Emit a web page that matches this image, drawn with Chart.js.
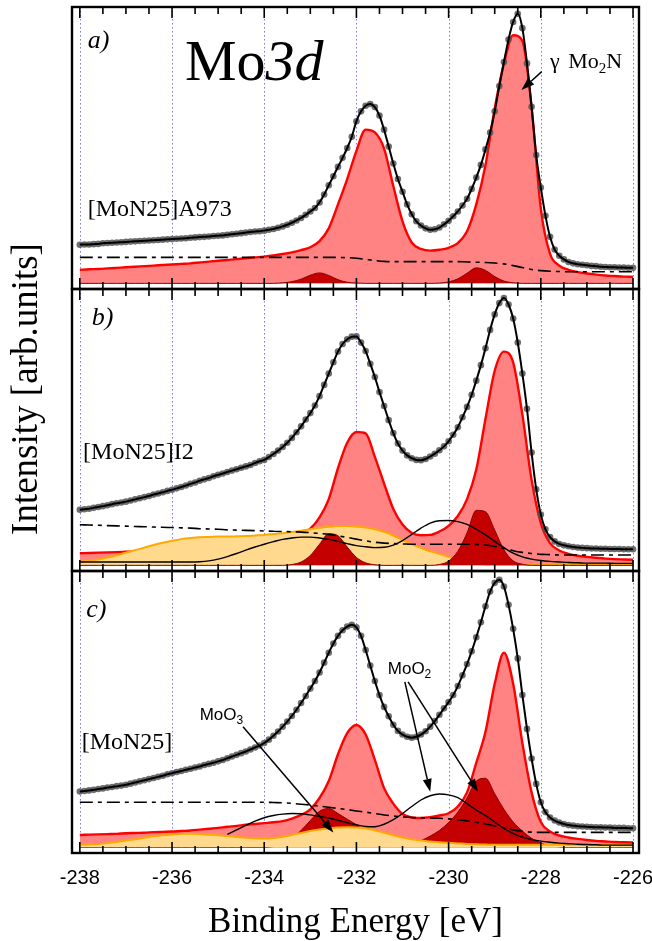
<!DOCTYPE html>
<html>
<head>
<meta charset="utf-8">
<script src="https://cdn.jsdelivr.net/npm/chart.js@4.4.0/dist/chart.umd.min.js"></script>
<style>
html,body{margin:0;padding:0;background:#fff;}
#wrap{position:relative;width:652px;height:941px;overflow:hidden;background:#fff;}
#wrap canvas{position:absolute;left:0;top:0;}
</style>
</head>
<body>
<div id="wrap">
<canvas id="cA" width="652" height="941"></canvas>
<canvas id="cB" width="652" height="941"></canvas>
<canvas id="cC" width="652" height="941"></canvas>
</div>
<script>
// ---------- x grids (binding energy, eV) ----------
const energyFine = [
-238,-237.9,-237.8,-237.7,-237.6,-237.5,-237.4,-237.3,-237.2,-237.1,
-237,-236.9,-236.8,-236.7,-236.6,-236.5,-236.4,-236.3,-236.2,-236.1,
-236,-235.9,-235.8,-235.7,-235.6,-235.5,-235.4,-235.3,-235.2,-235.1,
-235,-234.9,-234.8,-234.7,-234.6,-234.5,-234.4,-234.3,-234.2,-234.1,
-234,-233.9,-233.8,-233.7,-233.6,-233.5,-233.4,-233.3,-233.2,-233.1,
-233,-232.9,-232.8,-232.7,-232.6,-232.5,-232.4,-232.3,-232.2,-232.1,
-232,-231.9,-231.8,-231.7,-231.6,-231.5,-231.4,-231.3,-231.2,-231.1,
-231,-230.9,-230.8,-230.7,-230.6,-230.5,-230.4,-230.3,-230.2,-230.1,
-230,-229.9,-229.8,-229.7,-229.6,-229.5,-229.4,-229.3,-229.2,-229.1,
-229,-228.9,-228.8,-228.7,-228.6,-228.5,-228.4,-228.3,-228.2,-228.1,
-228,-227.9,-227.8,-227.7,-227.6,-227.5,-227.4,-227.3,-227.2,-227.1,
-227,-226.9,-226.8,-226.7,-226.6,-226.5,-226.4,-226.3,-226.2,-226.1,
-226];
const energy = [
-238,-237.8,-237.6,-237.4,-237.2,-237,-236.8,-236.6,-236.4,-236.2,
-236,-235.8,-235.6,-235.4,-235.2,-235,-234.8,-234.6,-234.4,-234.2,
-234,-233.8,-233.6,-233.4,-233.2,-233,-232.8,-232.6,-232.4,-232.2,
-232,-231.8,-231.6,-231.4,-231.2,-231,-230.8,-230.6,-230.4,-230.2,
-230,-229.8,-229.6,-229.4,-229.2,-229,-228.8,-228.6,-228.4,-228.2,
-228,-227.8,-227.6,-227.4,-227.2,-227,-226.8,-226.6,-226.4,-226.2,
-226];
const tickValues = [-238,-237.5,-237,-236.5,-236,-235.5,-235,-234.5,-234,-233.5,-233,-232.5,-232,
-231.5,-231,-230.5,-230,-229.5,-229,-228.5,-228,-227.5,-227,-226.5,-226];
const tickLabels = [-238,-236,-234,-232,-230,-228,-226];

// ---------- panel a) [MoN25]A973 ----------
const measuredA = [
13.7,13.8,13.8,13.9,14.0,14.2,14.3,14.4,14.5,14.6,
14.7,14.8,14.9,15.0,15.1,15.2,15.3,15.4,15.5,15.6,
15.7,15.8,15.9,16.0,16.2,16.3,16.4,16.5,16.6,16.8,
16.9,17.0,17.2,17.4,17.6,17.8,18.0,18.2,18.4,18.5,
18.7,19.0,19.3,19.7,20.2,20.8,21.5,22.3,23.2,24.3,
25.5,26.7,28.7,31.5,34.8,38.0,41.3,44.5,48.0,52.0,
57.5,61.0,63.0,63.6,62.5,59.5,54.5,48.5,42.5,37.0,
32.5,28.0,24.5,22.0,20.5,19.5,19.0,19.2,19.8,20.9,
22.2,23.8,25.5,27.6,30.0,33.5,37.5,42.0,47.5,53.5,
61.0,70.0,78.5,86.5,92.7,95.6,90.5,78.0,62.6,45.5,
34.0,24.0,16.5,12.0,9.8,8.5,7.6,7.1,6.8,6.6,
6.4,6.2,6.1,5.9,5.8,5.7,5.7,5.6,5.6,5.5,
5.5];
const mo2nA = [
4.8,5.0,5.1,5.3,5.5,5.7,5.9,6.1,6.3,6.5,
6.7,6.9,7.1,7.4,7.7,8.0,8.3,8.6,8.9,9.2,
9.5,9.9,10.4,11.0,11.8,12.8,15.0,19.5,28.0,37.0,
47.0,54.5,53.5,47.8,34.5,22.0,14.5,12.2,11.6,11.9,
12.6,14.3,18.5,28.0,42.0,62.0,78.0,88.0,86.0,62.6,
26.5,10.5,6.3,4.8,4.0,3.5,3.1,2.8,2.6,2.4,
2.3];
const darkA = [
0,0,0,0,0,0,0,0,0,0,
0,0,0,0,0,0,0,0,0,0,
0,0,0.2,0.6,1.5,2.9,3.7,2.8,1.3,0.4,
0.1,0,0,0,0,0,0,0,0,0.1,
0.5,1.6,3.6,5.5,4.6,2.4,0.8,0.2,0,0,
0,0,0,0,0,0,0,0,0,0,
0];
const backgroundA = [
9.2,9.2,9.2,9.2,9.2,9.2,9.2,9.2,9.2,9.2,
9.2,9.2,9.2,9.2,9.2,9.2,9.2,9.2,9.2,9.2,
9.2,9.2,9.2,9.2,9.2,9.2,9.2,9.2,9.2,9.1,
8.9,8.5,8.1,7.8,7.7,7.7,7.7,7.7,7.7,7.7,
7.7,7.7,7.6,7.5,7.4,7.2,6.9,6.3,5.6,4.9,
4.5,4.3,4.2,4.1,4.1,4.1,4.1,4.1,4.1,4.1,
4.1];

// ---------- panel b) [MoN25]I2 ----------
const measuredB = [
19.7,19.9,20.1,20.4,20.7,21.0,21.3,21.7,22.0,22.3,
22.6,23.0,23.4,23.8,24.2,24.6,25.1,25.5,25.9,26.4,
26.8,27.3,27.8,28.3,28.9,29.4,30.0,30.5,31.0,31.6,
32.1,32.6,33.1,33.6,34.1,34.6,35.1,35.6,36.3,36.9,
37.4,38.4,39.5,40.7,42.0,43.5,45.2,47.2,49.3,51.7,
54.0,56.7,60.0,64.0,68.0,72.0,75.8,78.5,80.2,81.1,
81.2,79.0,76.0,71.5,66.8,61.5,56.5,51.5,46.9,43.2,
40.7,39.0,38.0,37.4,37.3,37.7,38.6,39.6,40.8,42.2,
44.0,46.3,49.0,52.5,56.2,60.5,65.5,71.0,77.0,83.5,
89.0,93.0,94.8,92.5,87.5,79.0,68.0,55.5,40.0,27.0,
18.0,12.8,10.0,8.5,7.6,7.1,6.8,6.5,6.3,6.2,
6.1,6.0,6.0,5.9,5.9,5.8,5.8,5.8,5.7,5.7,
5.7];
const mo2nB = [
4.3,4.4,4.5,4.6,4.7,4.8,4.9,5.0,5.1,5.2,
5.3,5.4,5.5,5.6,5.8,6.0,6.2,6.4,6.6,6.9,
7.3,7.8,8.5,9.5,11.0,13.0,17.0,23.5,34.5,43.5,
47.3,46.8,38.5,29.0,20.0,14.5,11.5,10.7,10.8,12.0,
14.0,17.5,23.5,34.0,52.0,69.0,75.8,72.0,53.5,30.3,
15.0,7.9,5.3,4.1,3.4,3.0,2.7,2.4,2.2,2.1,
2.0];
const orangeB = [
1.3,1.6,2.1,2.8,3.6,4.5,5.4,6.3,7.2,8.0,
8.7,9.3,9.7,10.0,10.1,10.2,10.2,10.3,10.4,10.6,
10.8,11.1,11.4,11.8,12.3,12.8,13.3,13.7,14.0,14.0,
13.8,13.4,12.8,11.9,10.6,9.0,7.5,6.2,5.0,4.1,
3.0,1.8,1.0,0.6,0.4,0.3,0.3,0.3,0.3,0.3,
0.3,0.3,0.3,0.3,0.3,0.3,0.3,0.3,0.3,0.3,
0.3];
const darkB = [
0,0,0,0,0,0,0,0,0,0,
0,0,0,0,0,0,0,0,0,0,
0,0,0,0.3,1.2,3.5,7.5,11.2,10.5,6.5,
2.8,0.9,0.2,0,0,0,0,0,0,0.3,
1.5,5.0,11.5,19.5,19.0,12.5,5.5,1.6,0.4,0,
0,0,0,0,0,0,0,0,0,0,
0];
const moO2B = [
1.2,1.2,1.2,1.2,1.2,1.2,1.2,1.2,1.2,1.2,
1.2,1.2,1.2,1.3,1.6,2.2,3.1,4.2,5.4,6.5,
7.5,8.4,9.2,9.7,10.0,10.0,9.7,9.2,8.5,7.7,
7.0,6.6,6.3,6.4,7.2,8.8,11.0,13.2,15.0,15.8,
15.9,15.5,14.5,12.8,10.8,8.5,6.3,4.3,3.0,2.2,
1.7,1.4,1.2,1.0,0.9,0.8,0.8,0.8,0.7,0.7,
0.7];
const backgroundB = [
14.4,14.3,14.2,14.1,14.0,13.9,13.8,13.7,13.6,13.5,
13.4,13.3,13.2,13.0,12.9,12.8,12.6,12.5,12.4,12.3,
12.2,12.1,12.0,11.9,11.8,11.6,11.3,11.0,10.5,9.9,
9.3,8.7,8.2,7.9,7.7,7.6,7.5,7.5,7.5,7.5,
7.5,7.5,7.5,7.4,7.2,6.7,6.0,5.2,4.6,4.2,
3.9,3.8,3.7,3.7,3.7,3.7,3.7,3.7,3.7,3.7,
3.7];

// ---------- panel c) [MoN25] ----------
const measuredC = [
19.8,20.0,20.2,20.4,20.7,20.9,21.2,21.4,21.7,21.9,
22.2,22.6,23.0,23.4,23.8,24.2,24.6,25.0,25.4,25.9,
26.3,26.7,27.1,27.5,27.9,28.3,28.7,29.2,29.6,30.0,
30.5,31.0,31.6,32.2,32.8,33.4,34.0,34.7,35.4,36.1,
37.0,38.2,39.6,41.1,42.8,44.6,46.6,48.8,51.2,53.7,
56.3,59.0,62.0,65.5,69.0,72.3,75.0,77.0,78.3,78.9,
78.0,75.0,70.0,64.5,59.0,54.0,49.8,46.5,43.5,41.3,
40.0,39.2,38.9,39.2,40.0,41.2,42.8,44.8,47.0,49.3,
51.5,54.0,57.2,61.0,65.0,69.5,74.5,79.8,85.5,90.7,
93.8,94.9,92.5,86.0,77.5,67.0,54.0,42.0,31.5,22.5,
16.0,12.5,10.6,9.5,8.8,8.3,7.9,7.7,7.5,7.4,
7.3,7.2,7.1,7.1,7.0,7.0,6.9,6.9,6.9,6.8,
6.8];
const mo2nC = [
4.4,4.5,4.6,4.7,4.8,5.0,5.1,5.2,5.4,5.5,
5.6,5.8,6.0,6.3,6.6,6.9,7.3,7.6,8.0,8.3,
8.6,8.9,9.3,10.2,11.5,13.5,17.5,23.5,33.0,40.5,
43.4,40.0,31.0,21.0,15.5,11.8,10.6,10.4,10.7,11.3,
12.1,14.5,19.5,30.0,41.0,58.0,69.0,58.0,37.0,19.5,
9.0,5.6,4.2,3.5,3.0,2.6,2.3,2.1,1.9,1.8,
1.7];
const orangeC = [
0.9,1.0,1.2,1.5,1.9,2.4,2.9,3.4,3.9,4.3,
4.6,4.8,4.8,4.7,4.5,4.3,4.0,3.7,3.4,3.2,
3.1,3.3,3.8,4.4,5.1,5.8,6.3,6.7,7.0,7.1,
7.0,6.7,6.1,5.2,4.3,3.5,2.9,2.4,2.1,1.8,
1.6,1.4,1.2,1.1,1.0,0.9,0.9,0.9,0.9,0.9,
0.9,0.9,0.9,0.9,0.9,0.8,0.8,0.8,0.8,0.8,
0.8];
const darkC = [
0,0,0,0,0,0,0,0,0,0,
0,0,0,0,0,0,0,0,0,0,
0,0.3,0.8,3.0,6.0,9.5,12.8,13.8,12.0,10.0,
8.0,5.5,3.0,1.2,0.5,0.6,1.3,2.4,4.0,6.0,
8.8,12.5,17.5,23.5,24.5,19.0,13.5,9.0,5.8,3.2,
1.5,0.6,0.2,0,0,0,0,0,0,0,
0];
const moO2C = [
null,null,null,null,null,null,null,null,null,null,
null,null,null,null,null,null,4.6,6.2,7.8,9.3,
10.5,11.3,11.8,12.0,11.9,11.5,11.0,10.4,9.6,8.7,
8.0,7.4,7.3,8.2,9.8,12.0,14.5,16.8,18.3,18.9,
18.6,17.6,15.5,13.2,11.3,9.0,6.7,4.9,3.6,2.8,
2.2,1.8,1.5,1.3,1.1,1.0,0.9,0.8,0.8,0.8,
0.8];
const backgroundC = [
16.0,16.0,16.0,16.0,16.0,16.0,16.0,16.0,16.0,16.0,
16.0,16.0,16.0,16.0,16.0,16.0,16.0,16.0,16.0,16.0,
16.0,15.9,15.8,15.6,15.3,15.0,14.6,14.2,13.8,13.4,
12.9,12.5,12.0,11.5,11.1,10.8,10.6,10.5,10.4,10.3,
10.1,9.8,9.4,8.9,8.3,7.6,6.9,6.2,5.7,5.4,
5.3,5.3,5.3,5.3,5.3,5.3,5.3,5.3,5.3,5.3,
5.3];

// ---------- styling / layout ----------
const SERIF = '"Liberation Serif","Times New Roman",serif';
const SANS = '"Liberation Sans",Arial,sans-serif';
const X_MIN = -238.17, X_MAX = -225.87;
const Y_MIN = -2, Y_MAX = 98;
const C_LIGHT = '#FF8383', C_RED = '#FF0000', C_DARK = '#C40000', C_DARKEDGE = '#8A0000';
const C_YEL = '#FFD98E', C_ORG = '#FFA800';
const AXIS_H = 88;

function isLabelTick(v){ return tickLabels.some(t => Math.abs(t - v) < 1e-6); }
function pts(xs, ys){ return ys.map((v,i) => ({x: xs[i], y: v})); }

function filledSet(vals, fillC, lineC, lw, order){
  return {data: pts(energy, vals), fill: 'origin', backgroundColor: fillC, borderColor: lineC,
    borderWidth: lw, pointRadius: 0, cubicInterpolationMode: 'monotone', order};
}
function lineSet(vals, color, lw, dash, order){
  return {data: pts(energy, vals), fill: false, borderColor: color, borderWidth: lw,
    borderDash: dash, pointRadius: 0, cubicInterpolationMode: 'monotone', order, spanGaps: false};
}
function dotSet(vals, order){
  return {data: pts(energyFine, vals), showLine: false, fill: false, pointRadius: 3.3,
    pointBackgroundColor: 'rgba(85,85,85,0.85)', pointBorderWidth: 0, order};
}
function fitSet(vals, order){
  return {data: pts(energyFine, vals), fill: false, borderColor: '#000', borderWidth: 2,
    pointRadius: 0, cubicInterpolationMode: 'monotone', order};
}

function drawParts(ctx, parts, x, y){
  let cx = x;
  parts.forEach(p => {
    ctx.font = p.font;
    ctx.fillText(p.t, cx, y + (p.dy || 0));
    cx += ctx.measureText(p.t).width + (p.gap || 0);
  });
}
function drawArrow(ctx, x1, y1, x2, y2){
  const ang = Math.atan2(y2 - y1, x2 - x1);
  const hl = 13, hw = 4.5;
  const bx = x2 - hl * Math.cos(ang), by = y2 - hl * Math.sin(ang);
  ctx.beginPath(); ctx.moveTo(x1, y1); ctx.lineTo(bx, by); ctx.stroke();
  ctx.beginPath();
  ctx.moveTo(x2, y2);
  ctx.lineTo(bx + hw * Math.sin(ang), by - hw * Math.cos(ang));
  ctx.lineTo(bx - hw * Math.sin(ang), by + hw * Math.cos(ang));
  ctx.closePath(); ctx.fill();
}

function framePlugin(notes, arrows, yTitle){
  return {
    id: 'frameAndNotes',
    beforeDatasetsDraw(chart){
      const {ctx, chartArea: a, scales: {x}} = chart;
      ctx.save();
      ctx.strokeStyle = 'rgba(105,105,255,0.9)';
      ctx.lineWidth = 1;
      ctx.setLineDash([1.5, 2.5]);
      tickLabels.forEach(v => {
        const px = Math.round(x.getPixelForValue(v)) + 0.5;
        ctx.beginPath(); ctx.moveTo(px, a.top); ctx.lineTo(px, a.bottom); ctx.stroke();
      });
      ctx.restore();
    },
    afterDraw(chart){
      const {ctx, chartArea: a, scales: {x, y}} = chart;
      ctx.save();
      ctx.strokeStyle = '#000'; ctx.fillStyle = '#000';
      ctx.lineWidth = 1.6;
      tickValues.forEach(v => {
        const px = x.getPixelForValue(v);
        const len = isLabelTick(v) ? 11 : 7;
        ctx.beginPath();
        ctx.moveTo(px, a.top); ctx.lineTo(px, a.top + len);
        ctx.moveTo(px, a.bottom); ctx.lineTo(px, a.bottom - len);
        ctx.stroke();
      });
      ctx.lineWidth = 2.4;
      ctx.strokeRect(a.left, a.top, a.right - a.left, a.bottom - a.top);
      ctx.textBaseline = 'alphabetic'; ctx.textAlign = 'left';
      notes.forEach(n => drawParts(ctx, n.parts, x.getPixelForValue(n.x), y.getPixelForValue(n.y)));
      ctx.lineWidth = 1.5;
      arrows.forEach(ar => drawArrow(ctx,
        x.getPixelForValue(ar.from[0]), y.getPixelForValue(ar.from[1]),
        x.getPixelForValue(ar.to[0]), y.getPixelForValue(ar.to[1])));
      if (yTitle){
        ctx.translate(27, 389);
        ctx.rotate(-Math.PI / 2);
        ctx.font = '37px ' + SERIF;
        ctx.textAlign = 'center'; ctx.textBaseline = 'middle';
        ctx.fillText(yTitle, 0, 0);
      }
      ctx.restore();
    }
  };
}

function makeChart(id, padding, datasets, notes, arrows, bottomAxis, yTitle){
  return new Chart(document.getElementById(id), {
    type: 'line',
    data: {datasets},
    options: {
      responsive: false, animation: false, events: [],
      layout: {padding},
      plugins: {legend: {display: false}, tooltip: {enabled: false}},
      scales: {
        x: {
          type: 'linear', min: X_MIN, max: X_MAX,
          afterBuildTicks: s => { s.ticks = tickValues.map(v => ({value: v})); },
          afterFit: s => {
            s.paddingLeft = 0; s.paddingRight = 0; s.paddingTop = 0; s.paddingBottom = 0;
            if (bottomAxis) s.height = AXIS_H;
          },
          grid: {display: false, drawTicks: false},
          border: {display: false},
          ticks: {display: bottomAxis, autoSkip: false, maxRotation: 0, padding: 13, color: '#000',
            font: {family: SANS, size: 20},
            callback: v => isLabelTick(v) ? String(v) : ''},
          title: {display: bottomAxis, text: 'Binding Energy [eV]', color: '#000',
            font: {family: SERIF, size: 35, lineHeight: 0.75}, padding: {top: 14, bottom: 5}}
        },
        y: {type: 'linear', display: false, min: Y_MIN, max: Y_MAX}
      }
    },
    plugins: [framePlugin(notes, arrows, yTitle)]
  });
}

// panel a
makeChart('cA', {left: 72, right: 13, top: 7, bottom: 941 - 289}, [
  fitSet(measuredA, 1),
  dotSet(measuredA, 2),
  lineSet(backgroundA, '#000', 1.6, [13, 5, 4, 5], 3),
  filledSet(darkA, C_DARK, C_DARKEDGE, 1, 4),
  filledSet(mo2nA, C_LIGHT, C_RED, 2.4, 5)
], [
  {x: -237.83, y: 83.3, parts: [{t: 'a)', font: 'italic 26px ' + SERIF}]},
  {x: -235.72, y: 72.2, parts: [{t: 'Mo', font: '58px ' + SERIF}, {t: '3d', font: 'italic 58px ' + SERIF}]},
  {x: -237.83, y: 23.9, parts: [{t: '[MoN25]A973', font: '24px ' + SERIF}]},
  {x: -227.80, y: 76.3, parts: [{t: 'γ ', font: '22px ' + SERIF, gap: 3}, {t: 'Mo', font: '22px ' + SERIF},
    {t: '2', font: '15px ' + SERIF, dy: 5}, {t: 'N', font: '22px ' + SERIF}]}
], [
  {from: [-227.98, 75.1], to: [-228.42, 68.6]}
], false, null);

// panel b
makeChart('cB', {left: 72, right: 13, top: 289, bottom: 941 - 571}, [
  fitSet(measuredB, 1),
  dotSet(measuredB, 2),
  lineSet(backgroundB, '#000', 1.6, [13, 5, 4, 5], 3),
  lineSet(moO2B, '#000', 1.4, [], 4),
  filledSet(darkB, C_DARK, C_DARKEDGE, 1, 5),
  filledSet(orangeB, C_YEL, C_ORG, 2, 6),
  filledSet(mo2nB, C_LIGHT, C_RED, 2.4, 7)
], [
  {x: -237.74, y: 85.2, parts: [{t: 'b)', font: 'italic 26px ' + SERIF}]},
  {x: -237.93, y: 37.6, parts: [{t: '[MoN25]I2', font: '24px ' + SERIF}]}
], [], false, null);

// panel c
makeChart('cC', {left: 72, right: 13, top: 571, bottom: 0}, [
  fitSet(measuredC, 1),
  dotSet(measuredC, 2),
  lineSet(backgroundC, '#000', 1.6, [13, 5, 4, 5], 3),
  lineSet(moO2C, '#000', 1.4, [], 4),
  filledSet(orangeC, C_YEL, C_ORG, 2, 5),
  filledSet(darkC, C_DARK, C_DARKEDGE, 1, 6),
  filledSet(mo2nC, C_LIGHT, C_RED, 2.4, 7)
], [
  {x: -237.86, y: 81.7, parts: [{t: 'c)', font: 'italic 26px ' + SERIF}]},
  {x: -237.96, y: 34.9, parts: [{t: '[MoN25]', font: '24px ' + SERIF}]},
  {x: -235.40, y: 45.2, parts: [{t: 'MoO', font: '17px ' + SANS}, {t: '3', font: '12px ' + SANS, dy: 4}]},
  {x: -231.32, y: 61.4, parts: [{t: 'MoO', font: '17px ' + SANS}, {t: '2', font: '12px ' + SANS, dy: 4}]}
], [
  {from: [-234.46, 42.8], to: [-232.50, 5.3]},
  {from: [-230.95, 58.7], to: [-230.40, 19.7]},
  {from: [-230.88, 58.7], to: [-229.36, 19.7]}
], true, 'Intensity [arb.units]');
</script>
</body>
</html>
